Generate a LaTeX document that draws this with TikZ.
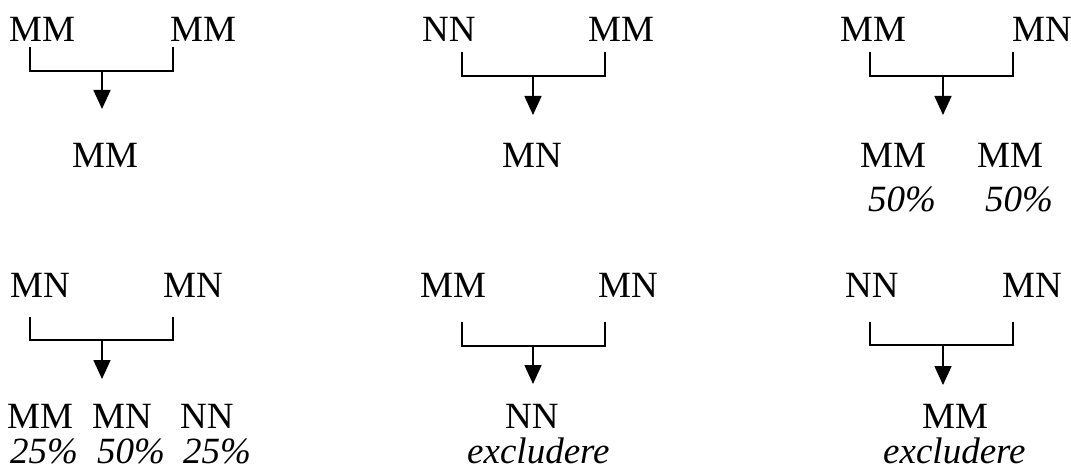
\documentclass[tikz,border=0pt]{standalone}
\usepackage{fontspec}
\setmainfont{Liberation Serif}
\usetikzlibrary{arrows.meta}
\begin{document}
\begin{tikzpicture}[x=1pt,y=-1pt,
  txt/.style={anchor=base west,inner sep=0pt,font=\fontsize{37}{40}\selectfont},
  itx/.style={anchor=base west,inner sep=0pt,text depth=0pt,font=\fontsize{37}{40}\selectfont\itshape},
  br/.style={line width=1.6pt},
  arr/.style={line width=1.6pt,-{Triangle[length=19pt,width=17pt]}}]
\useasboundingbox (0,0) rectangle (1071,470);
% Panel 1
\node[txt] (p1a) at (9,42) {MM};
\node[txt] (p1b) at (170,42) {MM};
\node[txt] (p1c) at (72,168) {MM};
\coordinate (a1) at (30,47); \coordinate (b1) at (173,47);
\coordinate (m1) at (102,71); \coordinate (t1) at (102,109);
\draw[br] (a1) |- (m1) -| (b1);
\draw[arr] (m1) -- (t1);
% Panel 2
\node[txt] (p2a) at (422,42) {NN};
\node[txt] (p2b) at (588,42) {MM};
\node[txt] (p2c) at (502,168) {MN};
\coordinate (a2) at (462,52); \coordinate (b2) at (605,52);
\coordinate (m2) at (533,76); \coordinate (t2) at (533,115);
\draw[br] (a2) |- (m2) -| (b2);
\draw[arr] (m2) -- (t2);
% Panel 3
\node[txt] (p3a) at (840,42) {MM};
\node[txt] (p3b) at (1012,42) {MN};
\node[txt] (p3c) at (860,168) {MM};
\node[txt] (p3d) at (977,168) {MM};
\node[itx] (p3e) at (868,212) {50\%};
\node[itx] (p3f) at (985,212) {50\%};
\coordinate (a3) at (870,52); \coordinate (b3) at (1013,52);
\coordinate (m3) at (943,76); \coordinate (t3) at (943,115);
\draw[br] (a3) |- (m3) -| (b3);
\draw[arr] (m3) -- (t3);
% Panel 4
\node[txt] (p4a) at (10,298) {MN};
\node[txt] (p4b) at (163,298) {MN};
\node[txt] (p4c) at (7,428) {MM};
\node[txt] (p4d) at (92,428) {MN};
\node[txt] (p4e) at (180,428) {NN};
\node[itx] (p4f) at (10,463) {25\%};
\node[itx] (p4g) at (97,463) {50\%};
\node[itx] (p4h) at (183,463) {25\%};
\coordinate (a4) at (30,317); \coordinate (b4) at (173,317);
\coordinate (m4) at (102,340); \coordinate (t4) at (102,379);
\draw[br] (a4) |- (m4) -| (b4);
\draw[arr] (m4) -- (t4);
% Panel 5
\node[txt] (p5a) at (420,298) {MM};
\node[txt] (p5b) at (598,298) {MN};
\node[txt] (p5c) at (505,428) {NN};
\node[itx] (p5d) at (467,463) {excludere};
\coordinate (a5) at (462,322); \coordinate (b5) at (605,322);
\coordinate (m5) at (533,346); \coordinate (t5) at (533,384);
\draw[br] (a5) |- (m5) -| (b5);
\draw[arr] (m5) -- (t5);
% Panel 6
\node[txt] (p6a) at (845,298) {NN};
\node[txt] (p6b) at (1002,298) {MN};
\node[txt] (p6c) at (922,428) {MM};
\node[itx] (p6d) at (883,463) {excludere};
\coordinate (a6) at (870,322); \coordinate (b6) at (1013,322);
\coordinate (m6) at (943,345); \coordinate (t6) at (943,385);
\draw[br] (a6) |- (m6) -| (b6);
\draw[arr] (m6) -- (t6);
\end{tikzpicture}
\end{document}
